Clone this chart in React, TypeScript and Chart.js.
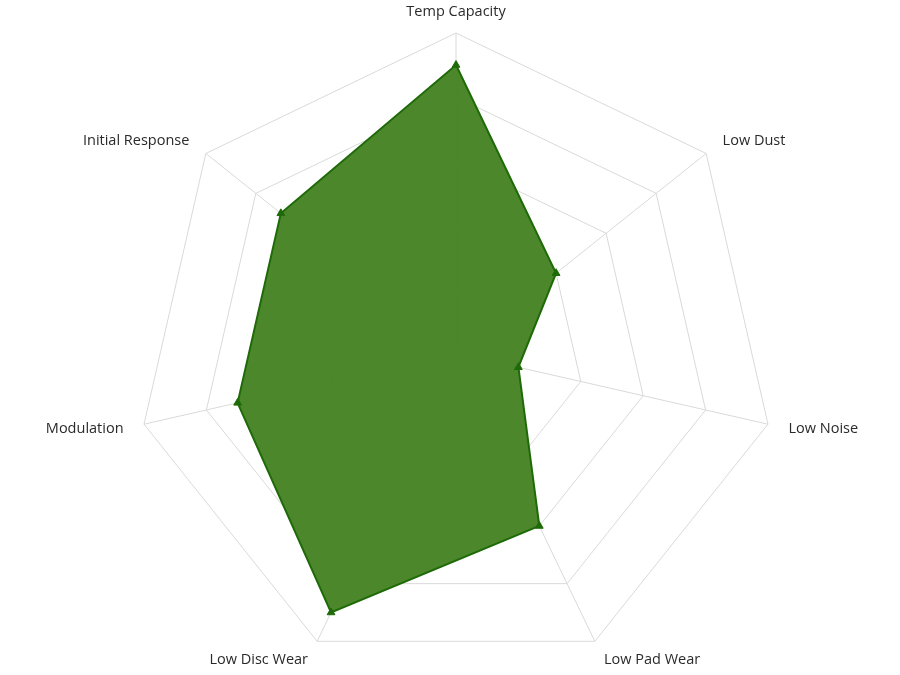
import React, { useEffect, useRef } from "react";
import { Chart, registerables } from "chart.js";

Chart.register(...registerables);

const categories = [
  "Temp Capacity",
  "Low Dust",
  "Low Noise",
  "Low Pad Wear",
  "Low Disc Wear",
  "Modulation",
  "Initial Response",
];
const values = [9, 4, 2, 6, 9, 7, 7];
const scaleMax = 10;
const scaleStep = 2;

const labelPlugin = {
  id: "outerLabels",
  afterDraw(chart: any) {
    const scale = chart.scales.r;
    const ctx = chart.ctx;
    ctx.save();
    ctx.font = "500 14.5px 'Open Sans', sans-serif";
    ctx.fillStyle = "#2a2a2a";
    ctx.textBaseline = "middle";
    const labels: string[] = chart.data.labels;
    labels.forEach((text, i) => {
      const p = scale.getPointPosition(i, scale.drawingArea + 21);
      const dx = p.x - scale.xCenter;
      ctx.textAlign = Math.abs(dx) < 5 ? "center" : dx > 0 ? "left" : "right";
      ctx.fillText(text, p.x, p.y);
    });
    ctx.restore();
  },
};

export default function App() {
  const ref = useRef<HTMLCanvasElement | null>(null);
  useEffect(() => {
    if (!ref.current) return;
    const chart = new Chart(ref.current, {
      type: "radar",
      data: {
        labels: categories,
        datasets: [
          {
            label: "Rating",
            data: values,
            backgroundColor: "rgba(72,134,39,0.98)",
            borderColor: "#1f6a08",
            borderWidth: 2,
            pointStyle: "triangle",
            pointRadius: 4.5,
            pointBackgroundColor: "#1f6a08",
            pointBorderColor: "#1f6a08",
            pointBorderWidth: 1,
          },
        ],
      },
      options: {
        animation: false,
        responsive: false,
        maintainAspectRatio: false,
        layout: { padding: { top: 33, bottom: 2, left: 12, right: 0 } },
        plugins: { legend: { display: false }, tooltip: { enabled: false } },
        scales: {
          r: {
            min: 0,
            max: scaleMax,
            ticks: { display: false, stepSize: scaleStep },
            grid: { color: "#d9d9d9", lineWidth: 1 },
            angleLines: { color: "#d9d9d9", lineWidth: 1 },
            pointLabels: { display: false },
          },
        },
      },
      plugins: [labelPlugin],
    });
    return () => chart.destroy();
  }, []);
  return (
    <div style={{ position: "absolute", left: 0, top: 0, width: 900, height: 675, background: "#fff" }}>
      <canvas ref={ref} width={900} height={675} style={{ width: 900, height: 675 }} />
    </div>
  );
}
